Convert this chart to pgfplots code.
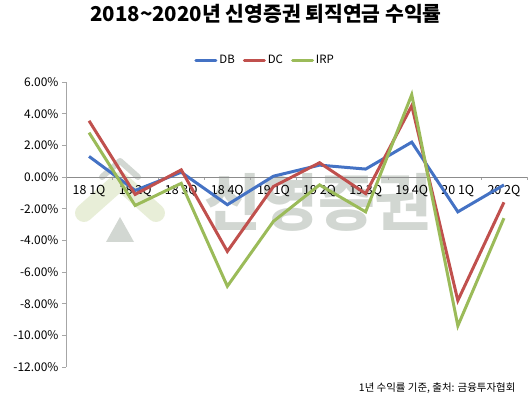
\documentclass[border=0pt]{standalone}
\usepackage{fontspec}
\setmainfont{Noto Sans CJK KR}
\usepackage{pgfplots}
\pgfplotsset{compat=1.18}
\definecolor{dbblue}{HTML}{4472C4}
\definecolor{dcred}{HTML}{C0504D}
\definecolor{irpgreen}{HTML}{9BBB59}
\definecolor{axisgray}{HTML}{A6A6A6}
\definecolor{zerogray}{HTML}{8C8C8C}
\definecolor{wmark}{HTML}{D2D7D2}
\definecolor{wgreen}{HTML}{E8EED8}

\begin{document}
\begin{tikzpicture}
\path (0bp,0bp) rectangle (530bp,399bp);
% title
\node[font=\fontsize{20.5}{24}\selectfont\bfseries] at (266bp,385bp) {2018\textasciitilde2020년 신영증권 퇴직연금 수익률};
% faint company watermark behind the chart
\draw[wgreen, line width=18bp, line cap=round, line join=round] (84bp,186bp) -- (120bp,218bp) -- (156bp,186bp);
\draw[wmark, line width=6bp, line cap=round, line join=round] (102bp,222bp) -- (120bp,238bp) -- (138bp,222bp);
\fill[wmark] (106bp,157bp) -- (120bp,182bp) -- (134bp,157bp) -- cycle;
\node[font=\fontsize{62}{62}\selectfont\bfseries, text=wmark] at (318bp,197bp) {신영증권};
% source note
\node[anchor=east, font=\fontsize{10.5}{12}\selectfont] at (519bp,11bp) {1년 수익률 기준, 출처: 금융투자협회};
\begin{axis}[
  at={(66bp,32bp)}, anchor=south west,
  scale only axis, width=461bp, height=285bp,
  xmin=-0.5, xmax=9.5, ymin=-12, ymax=6,
  axis x line=middle, axis y line=left,
  axis line style={-, draw=axisgray, line width=0.8bp},
  x axis line style={draw=zerogray},
  xtick={0,...,9},
  xticklabels={18 1Q,18 2Q,18 3Q,18 4Q,19 1Q,19 2Q,19 3Q,19 4Q,20 1Q,20 2Q},
  major x tick style={draw=none},
  minor xtick={0.5,1.5,...,9.5},
  minor x tick style={draw=axisgray, line width=0.8bp},
  minor tick length=3bp,
  ytick={-12,-10,...,6},
  yticklabels={-12.00\%,-10.00\%,-8.00\%,-6.00\%,-4.00\%,-2.00\%,0.00\%,2.00\%,4.00\%,6.00\%},
  y tick style={draw=axisgray, line width=0.8bp},
  major tick length=4bp,
  tick align=outside,
  xticklabel style={font=\fontsize{12.5}{14}\selectfont, yshift=-1bp},
  yticklabel style={font=\fontsize{12}{14}\selectfont},
  legend style={at={(0.432,1.077)}, anchor=center, draw=none, fill=none,
    legend columns=3, font=\fontsize{11.5}{13}\selectfont,
    /tikz/every even column/.style={column sep=6bp}},
  legend image code/.code={\draw[#1, line width=3bp, line cap=round] (0bp,0bp) -- (20bp,0bp);},
  every axis plot/.append style={line width=3bp, line join=miter},
  clip=false,
]
\addplot[dbblue, mark=none] coordinates {(0,1.3) (1,-0.85) (2,0.3) (3,-1.75) (4,0.05) (5,0.75) (6,0.5) (7,2.2) (8,-2.2) (9,-0.5)};
\addlegendentry{DB}
\addplot[dcred, mark=none] coordinates {(0,3.55) (1,-1.1) (2,0.45) (3,-4.7) (4,-0.6) (5,0.9) (6,-1.05) (7,4.5) (8,-7.8) (9,-1.6)};
\addlegendentry{DC}
\addplot[irpgreen, mark=none] coordinates {(0,2.8) (1,-1.8) (2,-0.4) (3,-6.9) (4,-2.8) (5,-0.5) (6,-2.2) (7,5.2) (8,-9.4) (9,-2.6)};
\addlegendentry{IRP}
\end{axis}
\end{tikzpicture}
\end{document}
